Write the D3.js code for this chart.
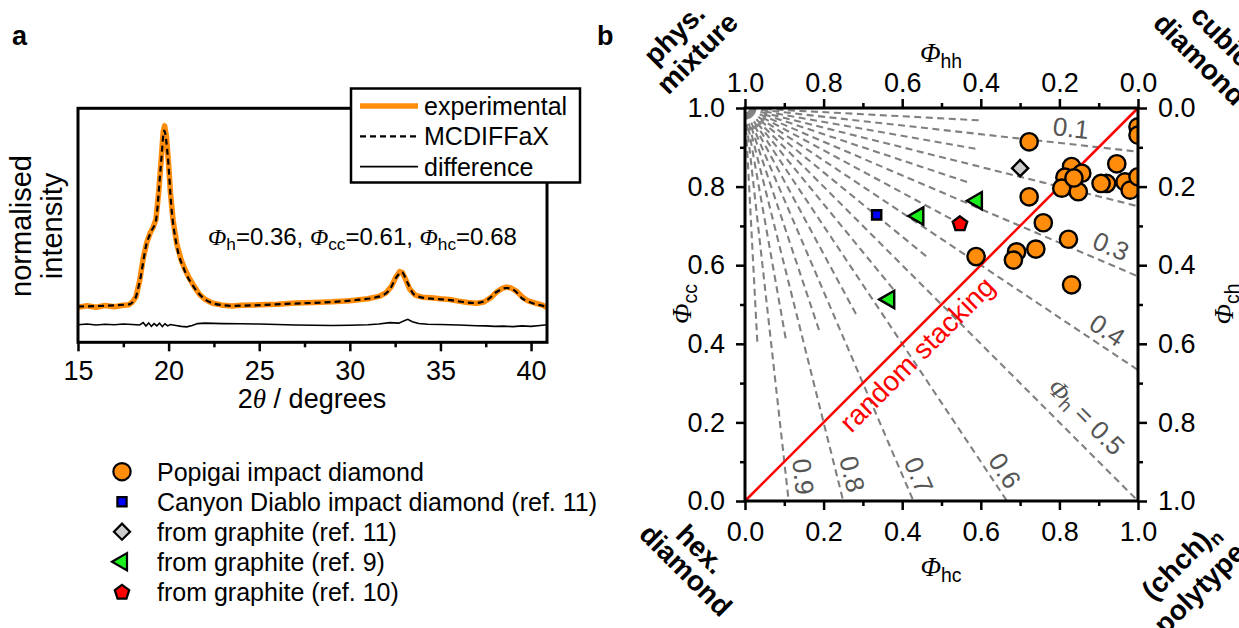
<!DOCTYPE html>
<html>
<head>
<meta charset="utf-8">
<script src="https://cdn.jsdelivr.net/npm/d3@7"></script>
<style>
  body { margin: 0; background: #fff; }
  svg { display: block; }
</style>
</head>
<body>
<svg id="fig" width="1239" height="628"></svg>
<script>
// ---------- panel a: diffraction pattern ----------
const expTheta = [15.0, 15.5, 16.0, 16.5, 17.0, 17.5, 17.8, 18.0, 18.2, 18.4, 18.6, 18.8, 19.0, 19.15, 19.3, 19.45, 19.6, 19.7, 19.78, 19.88, 20.0, 20.1, 20.25, 20.45, 20.7, 20.9, 21.1, 21.4, 21.7, 22.0, 22.4, 23.0, 23.5, 24.0, 25.0, 26.0, 27.0, 28.0, 29.0, 30.0, 31.0, 31.6, 32.0, 32.3, 32.55, 32.75, 32.9, 33.1, 33.3, 33.6, 34.0, 34.5, 35.0, 35.5, 36.0, 36.5, 37.0, 37.4, 37.8, 38.1, 38.4, 38.65, 38.9, 39.2, 39.5, 39.8, 40.2, 40.6, 40.88];
const expIntensity = [0.150, 0.156, 0.150, 0.157, 0.152, 0.158, 0.160, 0.172, 0.195, 0.262, 0.360, 0.428, 0.470, 0.492, 0.525, 0.640, 0.790, 0.900, 0.925, 0.880, 0.760, 0.640, 0.520, 0.420, 0.350, 0.312, 0.280, 0.240, 0.205, 0.184, 0.168, 0.158, 0.155, 0.158, 0.160, 0.163, 0.168, 0.170, 0.173, 0.178, 0.186, 0.196, 0.212, 0.240, 0.280, 0.302, 0.298, 0.265, 0.228, 0.202, 0.193, 0.190, 0.186, 0.183, 0.176, 0.170, 0.167, 0.172, 0.192, 0.215, 0.230, 0.236, 0.232, 0.218, 0.195, 0.178, 0.168, 0.160, 0.148];

const modelTheta = [15.0, 17.8, 18.15, 18.42, 18.78, 19.07, 19.3, 19.56, 19.76, 19.96, 20.15, 20.45, 20.85, 21.34, 21.93, 22.52, 23.5, 26.46, 30.4, 31.59, 32.17, 32.57, 32.87, 33.16, 33.56, 34.16, 35.33, 36.9, 37.6, 38.09, 38.64, 39.08, 39.47, 40.06, 40.88];
const modelIntensity = [0.153, 0.162, 0.186, 0.265, 0.420, 0.478, 0.520, 0.745, 0.905, 0.790, 0.580, 0.412, 0.313, 0.242, 0.188, 0.165, 0.156, 0.164, 0.181, 0.195, 0.222, 0.278, 0.300, 0.258, 0.203, 0.189, 0.182, 0.168, 0.182, 0.215, 0.232, 0.222, 0.190, 0.168, 0.153];

const diffTheta = [15.0, 15.5, 16.0, 16.5, 17.0, 17.5, 18.0, 18.4, 18.6, 18.75, 18.9, 19.05, 19.2, 19.35, 19.5, 19.65, 19.8, 19.95, 20.1, 20.4, 20.7, 21.0, 21.3, 21.6, 22.0, 22.5, 23.0, 24.0, 25.0, 26.0, 27.0, 28.0, 29.0, 30.0, 31.0, 31.6, 32.2, 32.7, 33.0, 33.2, 33.45, 33.8, 34.3, 35.0, 36.0, 37.0, 37.5, 38.0, 38.5, 39.0, 39.5, 40.0, 40.5, 40.88];
const diffIntensity = [0.075, 0.078, 0.074, 0.077, 0.075, 0.078, 0.076, 0.074, 0.084, 0.070, 0.083, 0.068, 0.080, 0.070, 0.082, 0.067, 0.079, 0.070, 0.076, 0.072, 0.068, 0.066, 0.072, 0.080, 0.082, 0.081, 0.080, 0.079, 0.078, 0.076, 0.074, 0.073, 0.072, 0.073, 0.075, 0.078, 0.084, 0.082, 0.092, 0.098, 0.088, 0.080, 0.077, 0.076, 0.074, 0.071, 0.070, 0.068, 0.069, 0.067, 0.070, 0.068, 0.072, 0.075];

const thetaTicks = [15, 20, 25, 30, 35, 40];
const thetaMinorTicks = [17.5, 22.5, 27.5, 32.5, 37.5];
const curveLegend = ["experimental", "MCDIFFaX", "difference"];
const fitPhiH = "0.36", fitPhiCC = "0.61", fitPhiHC = "0.68";

// ---------- panel b: stacking probabilities ----------
const popigaiHC = [0.723, 0.831, 0.814, 0.857, 0.806, 0.848, 0.837, 0.946, 0.920, 0.906, 0.967, 0.980, 1.0, 1.0, 1.0, 0.723, 0.759, 0.823, 0.740, 0.691, 0.683, 0.588, 0.831];
const popigaiCC = [0.914, 0.851, 0.824, 0.834, 0.796, 0.787, 0.822, 0.858, 0.808, 0.808, 0.812, 0.791, 0.825, 0.952, 0.931, 0.774, 0.708, 0.666, 0.641, 0.634, 0.613, 0.622, 0.550];
const canyonHC = [0.335];
const canyonCC = [0.728];
const graphite11HC = [0.700];
const graphite11CC = [0.847];
const graphite9HC = [0.441, 0.590, 0.367];
const graphite9CC = [0.725, 0.764, 0.513];
const graphite10HC = [0.547];
const graphite10CC = [0.707];
const seriesNames = ["Popigai impact diamond", "Canyon Diablo impact diamond (ref. 11)", "from graphite (ref. 11)", "from graphite (ref. 9)", "from graphite (ref. 10)"];

const isoPhiH = [0.1, 0.2, 0.3, 0.4, 0.5, 0.6, 0.7, 0.8, 0.9];
const isoPhiHShort = [0.05, 0.15, 0.25, 0.35, 0.45, 0.55, 0.65, 0.75, 0.85, 0.95];
const isoLabelValues = [0.1, 0.3, 0.4, 0.5, 0.6, 0.7, 0.8, 0.9];
const probTicks = [0, 0.2, 0.4, 0.6, 0.8, 1.0];
const probMinorTicks = [0.1, 0.3, 0.5, 0.7, 0.9];

// label placement along each iso line (fraction of length) and offset in px
const isoLabelAlong = [0.825, 0.914, 0.899, 0.827, 0.944, 0.949, 0.941, 0.943];
const isoLabelOffset = [16, 17, 16, 23, 15, 15, 15, 17];

const SANS = '"Liberation Sans", Arial, Helvetica, sans-serif';
const SERIF = '"Liberation Serif", "Times New Roman", serif';
const ORANGE = "#ff8c0a";

const svg = d3.select("#fig").attr("font-family", SANS);

// writes an italic Phi with a subscript, returns the subscript shift
function phiText(text, sub, size) {
  text.append("tspan").attr("font-family", SERIF).attr("font-style", "italic").text("Φ");
  text.append("tspan").attr("font-size", size * 0.72).attr("dy", size * 0.22).text(sub);
  return size * 0.22;
}

function axis(parent, make, tr, major, minor, fmt, pad, size) {
  const g = parent.append("g").attr("transform", tr);
  g.append("g").call(make().tickValues(minor).tickSize(5).tickFormat(() => ""));
  g.append("g").call(make().tickValues(major).tickSize(9).tickPadding(pad).tickFormat(fmt));
  g.selectAll(".domain").remove();
  g.selectAll("g").attr("font-family", SANS).attr("font-size", size);
  g.selectAll(".tick line").attr("stroke", "#000").attr("stroke-width", 2.5);
  g.selectAll(".tick text").attr("fill", "#000");
  return g;
}

function markerPath(kind) {
  if (kind === "circle") return d3.symbol(d3.symbolCircle, 235)();
  if (kind === "square") return d3.symbol(d3.symbolSquare, 85)();
  if (kind === "diamond") return d3.symbol(d3.symbolSquare, 130)();
  if (kind === "triangle") return d3.symbol(d3.symbolTriangle, 130)();
  const pts = d3.range(5).map(i => {
    const a = -Math.PI / 2 + i * 2 * Math.PI / 5;
    return [7.6 * Math.cos(a), 7.6 * Math.sin(a) + 0.8];
  });
  return d3.line()(pts) + "Z";
}
const markerRotate = { circle: 0, square: 0, diamond: 45, triangle: -90, pentagon: 0 };

const series = [
  { hc: popigaiHC, cc: popigaiCC, kind: "circle", fill: ORANGE },
  { hc: canyonHC, cc: canyonCC, kind: "square", fill: "#0000ff" },
  { hc: graphite11HC, cc: graphite11CC, kind: "diamond", fill: "#cccccc" },
  { hc: graphite9HC, cc: graphite9CC, kind: "triangle", fill: "#1cf01c" },
  { hc: graphite10HC, cc: graphite10CC, kind: "pentagon", fill: "#ff0000" }
];

// ================= panel a =================
const xA = d3.scaleLinear().domain([15, 40.88]).range([78, 547]);
const yA = d3.scaleLinear().domain([0, 1]).range([342.3, 108.3]);

svg.append("text").attr("x", 12).attr("y", 45).attr("font-size", 27).attr("font-weight", "bold").text("a");

axis(svg, () => d3.axisBottom(xA), "translate(0,342.3)", thetaTicks, thetaMinorTicks, d3.format("d"), 10, 27);

const panelA = svg.append("g");
panelA.append("path")
  .datum(d3.zip(diffTheta, diffIntensity))
  .attr("fill", "none").attr("stroke", "#000").attr("stroke-width", 1.6)
  .attr("d", d3.line().x(d => xA(d[0])).y(d => yA(d[1])));
panelA.append("path")
  .datum(d3.zip(expTheta, expIntensity))
  .attr("fill", "none").attr("stroke", ORANGE).attr("stroke-width", 5.5).attr("stroke-linejoin", "round")
  .attr("d", d3.line().x(d => xA(d[0])).y(d => yA(d[1])));
panelA.append("path")
  .datum(d3.zip(modelTheta, modelIntensity))
  .attr("fill", "none").attr("stroke", "#000").attr("stroke-width", 2.2).attr("stroke-dasharray", "6,4")
  .attr("d", d3.line().curve(d3.curveMonotoneX).x(d => xA(d[0])).y(d => yA(d[1])));

svg.append("rect").attr("x", 78).attr("y", 108.3).attr("width", 469).attr("height", 234)
  .attr("fill", "none").attr("stroke", "#000").attr("stroke-width", 3);

// fit annotation
const ann = svg.append("text").attr("x", 208).attr("y", 245).attr("font-size", 24);
let sh = phiText(ann, "h", 24);
ann.append("tspan").attr("dy", -sh).text(`=${fitPhiH}, `);
sh = phiText(ann, "cc", 24);
ann.append("tspan").attr("dy", -sh).text(`=${fitPhiCC}, `);
sh = phiText(ann, "hc", 24);
ann.append("tspan").attr("dy", -sh).text(`=${fitPhiHC}`);

// curve legend
const legA = svg.append("g");
legA.append("rect").attr("x", 351).attr("y", 88.5).attr("width", 229).attr("height", 94)
  .attr("fill", "#fff").attr("stroke", "#000").attr("stroke-width", 2.5);
const legStyles = [
  { stroke: ORANGE, width: 5.5, dash: null },
  { stroke: "#000", width: 2.2, dash: "6,4" },
  { stroke: "#000", width: 1.8, dash: null }
];
curveLegend.forEach((name, i) => {
  const y = 106 + i * 30.3;
  legA.append("line").attr("x1", 360).attr("x2", 418).attr("y1", y).attr("y2", y)
    .attr("stroke", legStyles[i].stroke).attr("stroke-width", legStyles[i].width)
    .attr("stroke-dasharray", legStyles[i].dash);
  legA.append("text").attr("x", 424).attr("y", y + 9).attr("font-size", 25).text(name);
});

// axis titles panel a
const xt = svg.append("text").attr("x", 312).attr("y", 408).attr("text-anchor", "middle").attr("font-size", 27);
xt.append("tspan").text("2");
xt.append("tspan").attr("font-family", SERIF).attr("font-style", "italic").text("θ");
xt.append("tspan").text(" / degrees");
svg.append("text").attr("transform", "translate(31,226) rotate(-90)").attr("text-anchor", "middle")
  .attr("font-size", 29).text("normalised");
svg.append("text").attr("transform", "translate(62,226) rotate(-90)").attr("text-anchor", "middle")
  .attr("font-size", 29).text("intensity");

// scatter legend
const legB = svg.append("g");
seriesNames.forEach((name, i) => {
  const y = 471.7 + i * 30;
  const s = series[i];
  legB.append("path").attr("d", markerPath(s.kind))
    .attr("transform", `translate(122,${y}) rotate(${markerRotate[s.kind]})`)
    .attr("fill", s.fill).attr("stroke", "#000").attr("stroke-width", 2.2);
  legB.append("text").attr("x", 157).attr("y", y + 9).attr("font-size", 25).text(name);
});

// ================= panel b =================
const xB = d3.scaleLinear().domain([0, 1]).range([745, 1138]);
const yB = d3.scaleLinear().domain([0, 1]).range([501, 108]);
const xTop = d3.scaleLinear().domain([1, 0]).range([745, 1138]);
const yRight = d3.scaleLinear().domain([0, 1]).range([108, 501]);

svg.append("text").attr("x", 597).attr("y", 45).attr("font-size", 27).attr("font-weight", "bold").text("b");

svg.append("defs").append("clipPath").attr("id", "clipB")
  .append("rect").attr("x", 745).attr("y", 108).attr("width", 393).attr("height", 393);

const plotB = svg.append("g");
const corner = [xB(0), yB(1)];

function isoEnd(p) {
  const k = p / (1 - p);
  return k <= 1 ? [1, 1 - k] : [1 / k, 0];
}

// short iso lines near the corner (start a little away from it)
isoPhiHShort.forEach(p => {
  const e = isoEnd(p);
  const ex = xB(e[0]), ey = yB(e[1]);
  const len = Math.hypot(ex - corner[0], ey - corner[1]);
  const t0 = 20 / len, t1 = Math.min(1, 235 / len);
  plotB.append("line")
    .attr("x1", corner[0] + (ex - corner[0]) * t0).attr("y1", corner[1] + (ey - corner[1]) * t0)
    .attr("x2", corner[0] + (ex - corner[0]) * t1).attr("y2", corner[1] + (ey - corner[1]) * t1)
    .attr("stroke", "#808080").attr("stroke-width", 2.1)
    .attr("stroke-dasharray", "7,4.5");
});
isoPhiH.forEach(p => {
  const e = isoEnd(p);
  plotB.append("line")
    .attr("x1", corner[0]).attr("y1", corner[1])
    .attr("x2", xB(e[0])).attr("y2", yB(e[1]))
    .attr("stroke", "#808080").attr("stroke-width", 2.1)
    .attr("stroke-dasharray", "7,4.5").attr("stroke-dashoffset", 7);
});

// iso line labels
isoLabelValues.forEach((p, i) => {
  const e = isoEnd(p);
  const ex = xB(e[0]), ey = yB(e[1]);
  const len = Math.hypot(ex - corner[0], ey - corner[1]);
  const dx = (ex - corner[0]) / len, dy = (ey - corner[1]) / len;
  const a = isoLabelAlong[i] * len, o = isoLabelOffset[i];
  const px = corner[0] + dx * a + dy * o;
  const py = corner[1] + dy * a - dx * o;
  const ang = Math.atan2(dy, dx) * 180 / Math.PI;
  const t = plotB.append("text")
    .attr("transform", `translate(${px},${py}) rotate(${ang})`)
    .attr("text-anchor", "middle").attr("dominant-baseline", "central")
    .attr("font-size", 26).attr("fill", "#555");
  if (p === 0.5) {
    const s = phiText(t, "h", 26);
    t.append("tspan").attr("dy", -s).text(" = " + d3.format(".1f")(p));
  } else {
    t.text(d3.format(".1f")(p));
  }
});

// random stacking diagonal
plotB.append("line")
  .attr("x1", xB(0)).attr("y1", yB(0)).attr("x2", xB(1)).attr("y2", yB(1))
  .attr("stroke", "#ff0000").attr("stroke-width", 2.6);
plotB.append("text").attr("transform", "translate(924,361) rotate(-45)")
  .attr("text-anchor", "middle").attr("font-size", 28).attr("fill", "#ff0000").text("random stacking");

// data markers
const pts = plotB.append("g").attr("clip-path", "url(#clipB)");
series.forEach(s => {
  pts.selectAll(null).data(d3.zip(s.hc, s.cc)).join("path")
    .attr("d", markerPath(s.kind))
    .attr("transform", d => `translate(${xB(d[0])},${yB(d[1])}) rotate(${markerRotate[s.kind]})`)
    .attr("fill", s.fill).attr("stroke", "#000").attr("stroke-width", 2.4);
});

// axes panel b
const fmt1 = d3.format(".1f");
axis(svg, () => d3.axisBottom(xB), "translate(0,501)", probTicks, probMinorTicks, fmt1, 12, 27);
axis(svg, () => d3.axisLeft(yB), "translate(745,0)", probTicks, probMinorTicks, fmt1, 11, 27);
axis(svg, () => d3.axisTop(xTop), "translate(0,108)", probTicks, probMinorTicks, fmt1, 7, 27);
axis(svg, () => d3.axisRight(yRight), "translate(1138,0)", probTicks, probMinorTicks, fmt1, 11, 27);
svg.append("rect").attr("x", 745).attr("y", 108).attr("width", 393).attr("height", 393)
  .attr("fill", "none").attr("stroke", "#000").attr("stroke-width", 3);

// axis titles panel b
const tTop = svg.append("text").attr("x", 941).attr("y", 62).attr("text-anchor", "middle").attr("font-size", 27);
phiText(tTop, "hh", 27);
const tBot = svg.append("text").attr("x", 941).attr("y", 576).attr("text-anchor", "middle").attr("font-size", 27);
phiText(tBot, "hc", 27);
const tLeft = svg.append("text").attr("transform", "translate(691,304) rotate(-90)").attr("text-anchor", "middle").attr("font-size", 27);
phiText(tLeft, "cc", 27);
const tRight = svg.append("text").attr("transform", "translate(1233,304) rotate(-90)").attr("text-anchor", "middle").attr("font-size", 27);
phiText(tRight, "ch", 27);

// corner labels
function cornerLabel(x, y, rot, parts) {
  const t = svg.append("text").attr("transform", `translate(${x},${y}) rotate(${rot})`)
    .attr("text-anchor", "middle").attr("font-size", 28).attr("font-weight", "bold");
  parts(t);
}
cornerLabel(681, 41, -45, t => t.text("phys."));
cornerLabel(704, 60, -45, t => t.text("mixture"));
cornerLabel(1215, 43, 45, t => t.text("cubic"));
cornerLabel(1193, 66, 45, t => t.text("diamond"));
cornerLabel(694, 556, 45, t => t.text("hex."));
cornerLabel(679, 577, 45, t => t.text("diamond"));
cornerLabel(1187, 568, -45, t => {
  t.append("tspan").text("(chch)");
  t.append("tspan").attr("font-size", 19).attr("dy", 6).text("n");
});
cornerLabel(1206, 595, -45, t => t.text("polytype"));
</script>
</body>
</html>
